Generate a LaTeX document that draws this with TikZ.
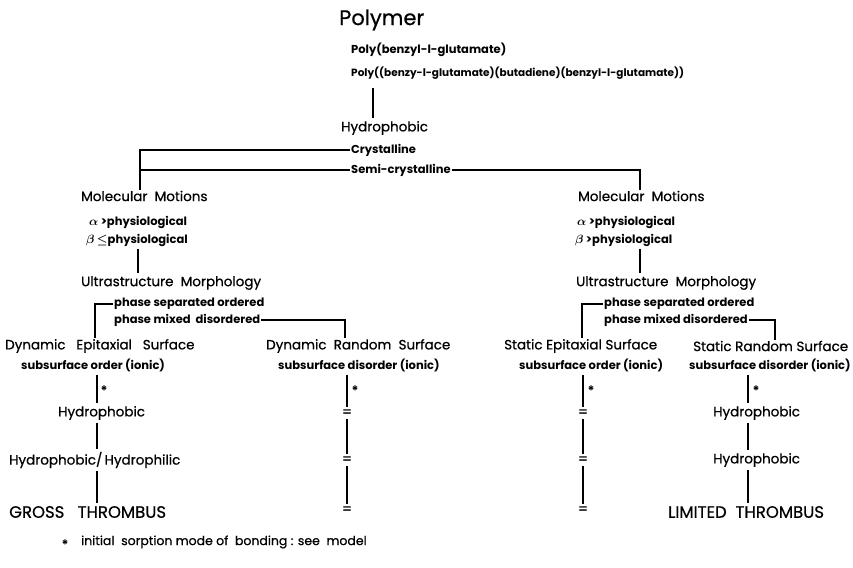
\documentclass[tikz,border=0pt]{standalone}
\usepackage{fontspec}
\setmainfont{Poppins}
\newfontfamily\hfont{Poppins}[FakeBold=0.6]
\begin{document}
\begin{tikzpicture}[x=1pt,y=-1pt,
  big/.style={font=\hfont\fontsize{21}{23}\selectfont, inner sep=1pt},
  head/.style={font=\hfont\fontsize{13.5}{15}\selectfont, inner sep=1pt},
  caps/.style={font=\hfont\fontsize{16.5}{18}\selectfont, inner sep=1pt},
  lbl/.style={font=\bfseries\boldmath\fontsize{11.5}{13}\selectfont, inner sep=1pt},
  lbls/.style={font=\bfseries\fontsize{10.5}{12}\selectfont, inner sep=1pt},
  star/.style={font=\bfseries\fontsize{13}{14}\selectfont, inner sep=0pt},
  eqs/.style={font=\hfont\fontsize{14}{15}\selectfont, inner sep=0pt},
  link/.style={line width=1.2pt},
  vl/.style={link, shorten <=2pt, shorten >=2pt}]
\useasboundingbox (0,0) rectangle (853,567);
% top
\node[big, anchor=west] (poly) at (338,20) {Polymer};
\node[lbl, anchor=west] (pbg) at (350,50) {Poly(benzyl-l-glutamate)};
\node[lbls, anchor=west] (pcop) at (350,73) {Poly((benzy-l-glutamate)(butadiene)(benzyl-l-glutamate))};
\node[head, anchor=west] (hyd0) at (340,128) {Hydrophobic};
\node[lbl, anchor=west] (cryst) at (350,150) {Crystalline};
\node[lbl, anchor=west] (semi) at (350,170) {Semi-crystalline};
\coordinate (xT) at (373,0);
\draw[vl] (pcop.south -| xT) ++(0,6) -- (hyd0.north -| xT);
% left branch
\node[head, anchor=west] (mmL) at (80,196) {Molecular\ \ Motions};
\node[lbl, anchor=west] (aL) at (88,222) {$\alpha$ >physiological};
\node[lbl, anchor=west] (bL) at (85,240) {$\beta$ $\leq$physiological};
\node[head, anchor=west] (umL) at (80,283) {Ultrastructure\ \ Morphology};
\node[lbl, anchor=west] (psoL) at (113,304) {phase separated ordered};
\node[lbl, anchor=west] (pmdL) at (113,320) {phase mixed\ \ disordered};
\coordinate (cA) at (140,150);
\coordinate (cB) at (140,170);
\draw[link] (cryst.west) -- (cA) -- (mmL.north -| cA);
\draw[link] (semi.west) -- (cB);
\coordinate (xU) at (138,0);
\draw[vl] (bL.south -| xU) -- (umL.north -| xU);
% left surfaces
\node[head, anchor=west] (desL) at (4,346) {Dynamic\ \ \ Epitaxial\ \ \ Surface};
\node[lbl, anchor=west] (ssoL) at (20,365) {subsurface order (ionic)};
\node[head, anchor=west] (drs) at (265,346) {Dynamic\ \ Random\ \ Surface};
\node[lbl, anchor=west] (ssd) at (277,365) {subsurface disorder (ionic)};
\coordinate (pA) at (95,304);
\coordinate (pB) at (345,320);
\draw[link] (psoL.west) -- (pA) -- (desL.north -| pA);
\draw[link] (pmdL.east) -- (pB) -- (drs.north -| pB);
% left chain
\coordinate (xL) at (97,0);
\node[head, anchor=west] (hydA) at (57,413) {Hydrophobic};
\node[head, anchor=west] (hh) at (8,460) {Hydrophobic/\,Hydrophilic};
\node[caps, anchor=west] (gross) at (8,512) {GROSS\ \ \ THROMBUS};
\node[star] (stA) at (104,391) {*};
\draw[vl] (ssoL.south -| xL) -- (hydA.north -| xL);
\draw[vl] (hydA.south -| xL) -- (hh.north -| xL);
\draw[vl] (hh.south -| xL) -- (gross.north -| xL);
% dynamic random chain
\coordinate (xD) at (347,0);
\node[star] (stB) at (355,391) {*};
\node[eqs] (eqA) at (347,413) {=};
\node[eqs] (eqB) at (347,460) {=};
\node[eqs] (eqC) at (347,510) {=};
\draw[vl] (ssd.south -| xD) -- (eqA.north -| xD);
\draw[vl] (eqA.south -| xD) -- (eqB.north -| xD);
\draw[vl] (eqB.south -| xD) -- (eqC.north -| xD);
% right branch
\node[head, anchor=west] (mmR) at (577,196) {Molecular\ \ Motions};
\node[lbl, anchor=west] (aR) at (576,222) {$\alpha$ >physiological};
\node[lbl, anchor=west] (bR) at (574,240) {$\beta$ >physiological};
\node[head, anchor=west] (umR) at (575,283) {Ultrastructure\ \ Morphology};
\node[lbl, anchor=west] (psoR) at (603,304) {phase separated ordered};
\node[lbl, anchor=west] (pmdR) at (603,320) {phase mixed disordered};
\coordinate (cC) at (640,170);
\draw[link] (semi.east) -- (cC) -- (mmR.north -| cC);
\coordinate (xV) at (640,0);
\draw[vl] (bR.south -| xV) -- (umR.north -| xV);
% right surfaces
\node[head, anchor=west] (sesR) at (503,346) {Static Epitaxial Surface};
\node[lbl, anchor=west] (ssoR) at (518,365) {subsurface order (ionic)};
\node[head, anchor=west] (srs) at (692,346) {Static Random Surface};
\node[lbl, anchor=west] (ssdR) at (688,365) {subsurface disorder (ionic)};
\coordinate (pC) at (582,304);
\coordinate (pD) at (775,320);
\draw[link] (psoR.west) -- (pC) -- (sesR.north -| pC);
\draw[link] (pmdR.east) -- (pD) -- (srs.north -| pD);
% static epitaxial chain
\coordinate (xS) at (583,0);
\node[star] (stC) at (591,391) {*};
\node[eqs] (eqD) at (583,413) {=};
\node[eqs] (eqE) at (583,460) {=};
\node[eqs] (eqF) at (583,510) {=};
\draw[vl] (ssoR.south -| xS) -- (eqD.north -| xS);
\draw[vl] (eqD.south -| xS) -- (eqE.north -| xS);
\draw[vl] (eqE.south -| xS) -- (eqF.north -| xS);
% static random chain
\coordinate (xR) at (748,0);
\node[star] (stD) at (756,391) {*};
\node[head, anchor=west] (hydB) at (712,413) {Hydrophobic};
\node[head, anchor=west] (hydC) at (712,460) {Hydrophobic};
\node[caps, anchor=west] (lim) at (667,512) {LIMITED\ \ THROMBUS};
\draw[vl] (ssdR.south -| xR) -- (hydB.north -| xR);
\draw[vl] (hydB.south -| xR) -- (hydC.north -| xR);
\draw[vl] (hydC.south -| xR) -- (lim.north -| xR);
% footnote
\node[star] (fstar) at (65,545) {*};
\node[anchor=west, inner sep=1pt, font=\hfont\fontsize{12.5}{14}\selectfont] (fnote) at (80,542) {initial\ \ sorption mode of\ \ bonding : see\ \ model};
\end{tikzpicture}
\end{document}
